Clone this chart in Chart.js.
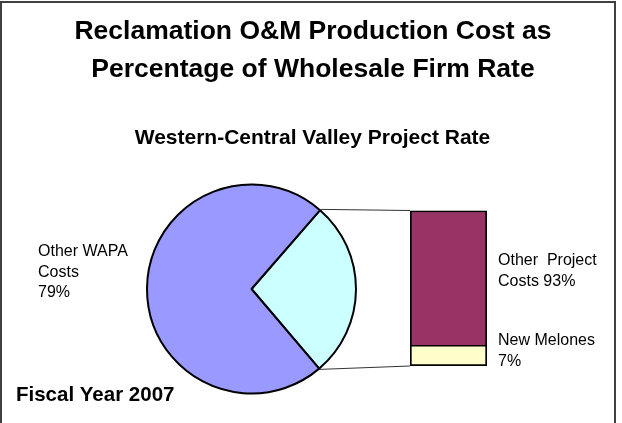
<!DOCTYPE html>
<html>
<head>
<meta charset="utf-8">
<title>Reclamation O&amp;M Production Cost</title>
<script src="https://cdn.jsdelivr.net/npm/chart.js@4.4.1/dist/chart.umd.min.js"></script>
<style>
  body { margin: 0; background: #fff; }
  #frame { position: relative; width: 622px; height: 423px; overflow: hidden; background: #fff; }
  #border { position: absolute; left: 0; top: 1px; width: 612px; height: 440px; border: 2px solid #404040; }
  #pieCanvas { position: absolute; left: 0; top: 0; }
  #barCanvas { position: absolute; left: 400px; top: 200px; }
</style>
</head>
<body>
<div id="frame">
  <div id="border"></div>
  <canvas id="pieCanvas" width="622" height="423"></canvas>
  <canvas id="barCanvas" width="100" height="180"></canvas>
</div>

<script>
// data
const titleLines = ['Reclamation O&M Production Cost as', 'Percentage of Wholesale Firm Rate'];
const subTitle = 'Western-Central Valley Project Rate';
const yearText = 'Fiscal Year 2007';

const pieLabels = ['Central Valley Project', 'Other WAPA Costs'];
const pieValues = [27.4, 72.6];  // slice sizes as drawn
const pieColors = ['#CCFFFF', '#9999FF'];
const pieText = ['Other WAPA', 'Costs', '79%'];

const barLabels = ['New Melones', 'Other Project Costs'];
const barValues = [13, 87];  // bottom to top, as drawn
const barColors = ['#FFFFCC', '#993366'];
const barTextTop = ['Other  Project', 'Costs 93%'];
const barTextBottom = ['New Melones', '7%'];

const barOffset = { x: 400, y: 200 };  // where the bar canvas sits on the page
const fontFamily = '"Liberation Sans", Arial, sans-serif';


// the stacked bar on the right (the "second pie")
let barChart = new Chart(document.getElementById('barCanvas'), {
  type: 'bar',
  data: {
    labels: [''],
    datasets: [
      {
        label: barLabels[0],
        data: [barValues[0]],
        backgroundColor: barColors[0],
        borderColor: '#000',
        borderWidth: { top: 1, left: 2, right: 2, bottom: 2 },
        borderSkipped: false,
        categoryPercentage: 1,
        barPercentage: 1
      },
      {
        label: barLabels[1],
        data: [barValues[1]],
        backgroundColor: barColors[1],
        borderColor: '#000',
        borderWidth: { top: 2, left: 2, right: 2, bottom: 1 },
        borderSkipped: false,
        categoryPercentage: 1,
        barPercentage: 1
      }
    ]
  },
  options: {
    responsive: false,
    animation: false,
    layout: { padding: { left: 10, top: 10.5, right: 13, bottom: 14 } },
    scales: {
      x: { stacked: true, display: false },
      y: { stacked: true, display: false, min: 0, max: 100 }
    },
    plugins: { legend: { display: false }, tooltip: { enabled: false } }
  }
});


function drawLines(ctx, lines, x, y, step, align) {
  ctx.textAlign = align;
  lines.forEach((t, i) => ctx.fillText(t, x, y + i * step));
}


// texts and the two connector lines
const extrasPlugin = {
  id: 'extras',
  afterDraw(chart) {
    const c = chart.ctx;
    c.save();

    const arc = chart.getDatasetMeta(0).data[0];  // the small slice
    const topBar = barChart.getDatasetMeta(1).data[0];
    const bottomBar = barChart.getDatasetMeta(0).data[0];
    const r = arc.outerRadius + 1;
    const barLeft = barOffset.x + topBar.x - topBar.width / 2;

    c.strokeStyle = '#333';
    c.lineWidth = 1;
    c.beginPath();
    c.moveTo(arc.x + r * Math.cos(arc.startAngle), arc.y + r * Math.sin(arc.startAngle));
    c.lineTo(barLeft, barOffset.y + topBar.y);
    c.moveTo(arc.x + r * Math.cos(arc.endAngle), arc.y + r * Math.sin(arc.endAngle));
    c.lineTo(barLeft, barOffset.y + bottomBar.base);
    c.stroke();

    c.fillStyle = '#000';
    c.textBaseline = 'middle';
    c.font = 'bold 26.5px ' + fontFamily;
    drawLines(c, titleLines, 313, 32, 38, 'center');
    c.font = 'bold 21px ' + fontFamily;
    drawLines(c, [subTitle], 312.5, 138, 0, 'center');
    c.font = 'bold 20.5px ' + fontFamily;
    drawLines(c, [yearText], 16, 395, 0, 'left');

    c.font = '16px ' + fontFamily;
    drawLines(c, pieText, 38, 252, 20.5, 'left');
    drawLines(c, barTextTop, 498, 261, 20.7, 'left');
    drawLines(c, barTextBottom, 498, 341, 20.7, 'left');
    c.restore();
  }
};


// the big pie on the left
new Chart(document.getElementById('pieCanvas'), {
  type: 'pie',
  data: {
    labels: pieLabels,
    datasets: [{
      data: pieValues,
      backgroundColor: pieColors,
      borderColor: '#000',
      borderWidth: 2,
      hoverOffset: 0
    }]
  },
  options: {
    responsive: false,
    animation: false,
    rotation: 41,  // small slice starts up right
    layout: { padding: { left: 146, top: 183.5, right: 265, bottom: 28.5 } },
    plugins: { legend: { display: false }, tooltip: { enabled: false } }
  },
  plugins: [extrasPlugin]
});
</script>
</body>
</html>
